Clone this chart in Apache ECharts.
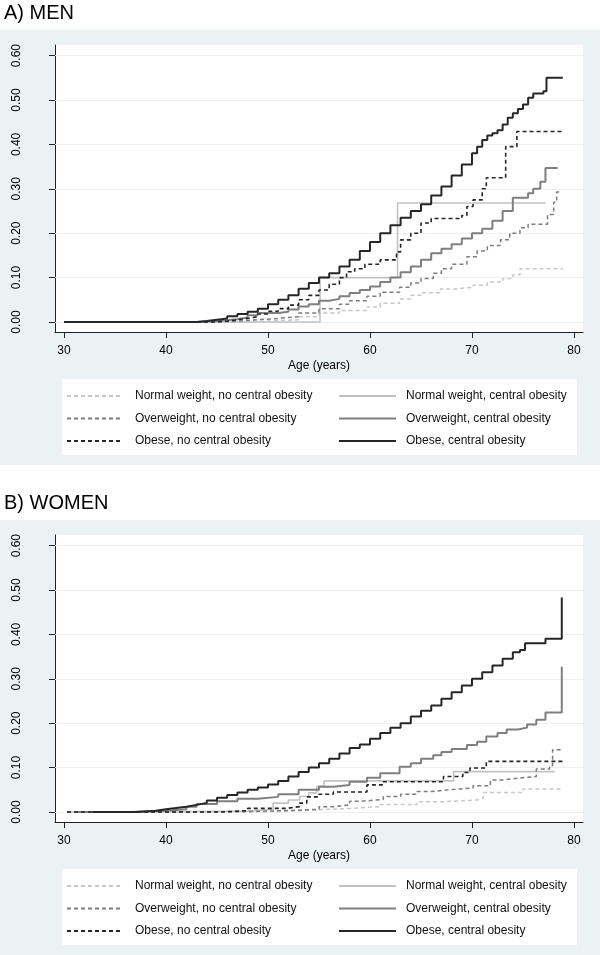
<!DOCTYPE html>
<html>
<head>
<meta charset="utf-8">
<script src="https://cdn.jsdelivr.net/npm/echarts@6/dist/echarts.min.js"></script>
<style>
html,body{margin:0;padding:0;background:#fff;}
#chart{width:600px;height:955px;}
</style>
</head>
<body>
<div id="chart"></div>
<script>
// ---------- DATA ----------
const xTicks = [30, 40, 50, 60, 70, 80];
const yTicks = [0, 0.1, 0.2, 0.3, 0.4, 0.5, 0.6];
const seriesNames = [
  'Normal weight, no central obesity',
  'Normal weight, central obesity',
  'Overweight, no central obesity',
  'Overweight, central obesity',
  'Obese, no central obesity',
  'Obese, central obesity'
];
const panelTitles = ['A) MEN', 'B) WOMEN'];
const xAxisName = 'Age (years)';

// MEN (step functions: age where value changes, value after change, last age shown)
const menNormNoAge = [30, 47, 50, 53, 55, 57, 59.7, 61, 62.9, 64, 65, 66.9, 68, 70.1, 71.5, 73, 74, 74.7];
const menNormNoVal = [0, 0.002, 0.005, 0.012, 0.02, 0.026, 0.034, 0.042, 0.052, 0.06, 0.066, 0.074, 0.078, 0.083, 0.09, 0.098, 0.106, 0.12];
const menNormNoEnd = 78.9;

const menNormCAge = [30, 55.1, 62.7];
const menNormCVal = [0, 0.10, 0.268];
const menNormCEnd = 77.2;

const menOverNoAge = [30, 45, 47, 49, 51, 53, 55, 57, 58, 59.7, 61, 62.9, 64, 65, 66.2, 67, 68, 69.5, 70.5, 71.5, 72.8, 73.7, 74.7, 75.5, 77.4, 78, 78.3];
const menOverNoVal = [0, 0.002, 0.005, 0.008, 0.012, 0.02, 0.03, 0.04, 0.048, 0.058, 0.067, 0.078, 0.088, 0.098, 0.11, 0.12, 0.13, 0.147, 0.16, 0.172, 0.185, 0.2, 0.212, 0.22, 0.242, 0.27, 0.293];
const menOverNoEnd = 78.8;

const menOverCAge = [30, 43, 45, 47, 48, 49, 51, 52, 53, 54, 55, 56, 57, 58, 59, 60, 61, 62, 63, 64, 65, 66, 67, 68, 69, 70, 71, 72, 73, 74, 75.5, 76, 76.7, 77.2];
const menOverCVal = [0, 0.002, 0.006, 0.01, 0.015, 0.02, 0.023, 0.028, 0.035, 0.04, 0.048, 0.052, 0.058, 0.065, 0.072, 0.08, 0.09, 0.1, 0.112, 0.125, 0.14, 0.155, 0.165, 0.175, 0.188, 0.2, 0.21, 0.228, 0.25, 0.28, 0.29, 0.3, 0.316, 0.347];
const menOverCEnd = 78.4;

const menObNoAge = [30, 44.5, 46, 47, 48, 49, 50, 51, 52, 53, 54, 55, 56, 57, 57.7, 58.5, 59.5, 61, 62.6, 63, 64, 65, 66, 69, 69.5, 70.1, 71, 71.4, 73.3, 74.4];
const menObNoVal = [0, 0.002, 0.005, 0.008, 0.012, 0.018, 0.024, 0.03, 0.038, 0.05, 0.06, 0.072, 0.085, 0.1, 0.113, 0.12, 0.13, 0.14, 0.158, 0.185, 0.2, 0.223, 0.233, 0.24, 0.26, 0.275, 0.3, 0.325, 0.395, 0.429];
const menObNoEnd = 78.8;

const menObCAge = [30, 43, 44, 45, 46, 47, 48, 49, 50, 51, 52, 53, 54, 55, 56, 57, 58, 59, 60, 61, 62, 63, 64, 65, 66, 67, 68, 69, 70, 70.5, 71, 71.5, 72, 72.5, 73, 73.5, 74, 74.5, 75, 75.5, 76, 77, 77.3];
const menObCVal = [0, 0.002, 0.005, 0.008, 0.013, 0.018, 0.023, 0.03, 0.04, 0.05, 0.06, 0.075, 0.088, 0.1, 0.11, 0.125, 0.14, 0.16, 0.18, 0.2, 0.218, 0.235, 0.25, 0.265, 0.285, 0.305, 0.33, 0.355, 0.38, 0.395, 0.41, 0.42, 0.425, 0.432, 0.445, 0.46, 0.47, 0.48, 0.49, 0.505, 0.515, 0.52, 0.55];
const menObCEnd = 78.9;

// WOMEN
const womNormNoAge = [30.3, 48, 52, 55, 58, 61, 64.6, 67, 70.5, 71.1, 75];
const womNormNoVal = [0, 0.002, 0.005, 0.008, 0.012, 0.017, 0.023, 0.027, 0.031, 0.044, 0.052];
const womNormNoEnd = 78.9;

const womNormCAge = [30.3, 37, 48, 50.5, 52, 53.1, 54, 54.8, 55.5, 68.2];
const womNormCVal = [0, 0.002, 0.006, 0.02, 0.027, 0.035, 0.043, 0.058, 0.07, 0.091];
const womNormCEnd = 78.1;

const womOverNoAge = [30.3, 45, 50, 53, 55, 56.4, 58, 59, 61.3, 63, 64.6, 66, 67.8, 70.1, 71.8, 73, 74.4, 76.3, 77.6, 77.9];
const womOverNoVal = [0, 0.002, 0.004, 0.006, 0.012, 0.016, 0.024, 0.028, 0.035, 0.04, 0.046, 0.05, 0.054, 0.059, 0.072, 0.076, 0.08, 0.097, 0.104, 0.14];
const womOverNoEnd = 78.9;

const womOverCAge = [31, 36.5, 40, 42, 43, 45, 47, 49, 51, 53, 55, 56.4, 58, 59.7, 61, 62.9, 64, 65, 66.2, 67, 68, 69.5, 70.5, 71.4, 72.5, 73.4, 74.5, 75.4, 76.3, 77.2, 78.8];
const womOverCVal = [0, 0.003, 0.006, 0.012, 0.018, 0.024, 0.03, 0.034, 0.04, 0.05, 0.057, 0.061, 0.068, 0.077, 0.087, 0.102, 0.11, 0.12, 0.128, 0.135, 0.142, 0.151, 0.158, 0.17, 0.178, 0.186, 0.19, 0.197, 0.208, 0.224, 0.327];
const womOverCEnd = 78.8;

const womObNoAge = [30.3, 45.5, 48, 51.8, 53.1, 53.8, 55, 56.4, 59.7, 61.3, 67.2, 69.1, 69.8, 71.4];
const womObNoVal = [0, 0.003, 0.008, 0.012, 0.02, 0.034, 0.04, 0.045, 0.061, 0.068, 0.08, 0.089, 0.099, 0.114];
const womObNoEnd = 78.9;

const womObCAge = [32.8, 37, 39, 40, 41, 42, 43, 44, 45, 46, 47, 48, 49, 50, 51, 52, 53, 54, 55, 56, 57, 58, 59, 60, 61, 62, 63, 64, 65, 66, 67, 68, 69, 70, 71, 72, 73, 74, 74.7, 75.2, 77.2, 78.8];
const womObCVal = [0, 0.003, 0.006, 0.009, 0.012, 0.016, 0.02, 0.026, 0.032, 0.038, 0.044, 0.05, 0.055, 0.062, 0.07, 0.08, 0.09, 0.1, 0.11, 0.12, 0.132, 0.144, 0.152, 0.165, 0.178, 0.19, 0.2, 0.215, 0.228, 0.24, 0.255, 0.27, 0.285, 0.3, 0.315, 0.33, 0.345, 0.36, 0.365, 0.38, 0.39, 0.483];
const womObCEnd = 78.8;

// ---------- BUILD ----------
function stepData(ages, vals, endAge) {
  const pts = [[ages[0], vals[0]]];
  for (let i = 1; i < ages.length; i++) {
    pts.push([ages[i], vals[i - 1]]);
    pts.push([ages[i], vals[i]]);
  }
  if (endAge > ages[ages.length - 1]) pts.push([endAge, vals[vals.length - 1]]);
  return pts;
}

const panels = [
  [[menNormNoAge, menNormNoVal, menNormNoEnd], [menNormCAge, menNormCVal, menNormCEnd],
   [menOverNoAge, menOverNoVal, menOverNoEnd], [menOverCAge, menOverCVal, menOverCEnd],
   [menObNoAge, menObNoVal, menObNoEnd], [menObCAge, menObCVal, menObCEnd]],
  [[womNormNoAge, womNormNoVal, womNormNoEnd], [womNormCAge, womNormCVal, womNormCEnd],
   [womOverNoAge, womOverNoVal, womOverNoEnd], [womOverCAge, womOverCVal, womOverCEnd],
   [womObNoAge, womObNoVal, womObNoEnd], [womObCAge, womObCVal, womObCEnd]]
];

const lineStyles = [
  { color: '#c8c8c8', width: 1.5, type: [4, 3] },
  { color: '#c2c2c2', width: 1.6, type: 'solid' },
  { color: '#7d7d7d', width: 1.5, type: [4, 3] },
  { color: '#7f7f7f', width: 2, type: 'solid' },
  { color: '#262626', width: 1.6, type: [4, 3] },
  { color: '#262626', width: 2, type: 'solid' }
];

const FONT = 'Liberation Sans, Arial, sans-serif';
const BG = '#EAF2F3';
const panelTop = [0, 490];

const grids = [], xAxes = [], yAxes = [], series = [], legends = [], titles = [], graphics = [];

panels.forEach((panel, p) => {
  const off = panelTop[p];
  graphics.push({ type: 'rect', z: -10, shape: { x: 0, y: 30 + off, width: 600, height: 435 }, style: { fill: BG } });
  graphics.push({ type: 'rect', z: -9, shape: { x: 62, y: 379 + off, width: 515, height: 76 }, style: { fill: '#ffffff' } });
  titles.push({ text: panelTitles[p], left: -1, top: -2 + off, textStyle: { fontSize: 20, fontWeight: 'normal', color: '#000', fontFamily: FONT } });
  grids.push({ left: 55, top: 45 + off, width: 528, height: 287, show: true, backgroundColor: '#ffffff', borderWidth: 0, containLabel: false });
  xAxes.push({
    type: 'value', gridIndex: p, min: 29.12, max: 80.88,
    name: xAxisName, nameLocation: 'middle', nameGap: 28,
    nameTextStyle: { fontSize: 12, color: '#000', fontFamily: FONT },
    axisLine: { show: true, onZero: false, lineStyle: { color: '#222', width: 1 } },
    axisTick: { show: true, length: 6, lineStyle: { color: '#222' }, customValues: xTicks },
    axisLabel: { show: true, margin: 13, fontSize: 12, color: '#000', fontFamily: FONT, customValues: xTicks, formatter: v => String(v) },
    splitLine: { show: false }
  });
  yAxes.push({
    type: 'value', gridIndex: p, min: -0.0226, max: 0.624,
    axisLine: { show: true, onZero: false, lineStyle: { color: '#222', width: 1 } },
    axisTick: { show: true, length: 6, lineStyle: { color: '#222' }, customValues: yTicks },
    axisLabel: { show: true, rotate: 90, margin: 32, fontSize: 12, color: '#000', fontFamily: FONT, customValues: yTicks, formatter: v => v.toFixed(2) },
    splitLine: { show: false }
  });
  panel.forEach((d, i) => {
    const s = {
      name: seriesNames[i], type: 'line', xAxisIndex: p, yAxisIndex: p,
      data: stepData(d[0], d[1], d[2]),
      showSymbol: false, symbol: 'none', animation: false, z: 3 + i,
      lineStyle: Object.assign({}, lineStyles[i]),
      itemStyle: { color: lineStyles[i].color }
    };
    if (i === 0) {
      s.markLine = {
        silent: true, symbol: 'none', z: 1, animation: false,
        label: { show: false },
        lineStyle: { color: BG, width: 1.2, type: 'solid' },
        data: yTicks.map(v => ({ yAxis: v }))
      };
    }
    series.push(s);
  });
  const mkLegend = (left, itemWidth, pad, names) => ({
    orient: 'vertical', left: left, top: 390 + off, padding: 0,
    itemWidth: itemWidth, itemHeight: 12, itemGap: 10.5,
    selectedMode: false,
    itemStyle: { opacity: 0, color: 'rgba(0,0,0,0)', borderWidth: 0 },
    textStyle: { fontSize: 12, color: '#111', fontFamily: FONT, rich: { t: { fontSize: 12, color: '#111', fontFamily: FONT, padding: [0, 0, 0, pad] } } },
    formatter: n => '{t|' + n + '}',
    data: names
  });
  legends.push(mkLegend(66, 53, 10, [seriesNames[0], seriesNames[2], seriesNames[4]]));
  legends.push(mkLegend(338, 57, 5, [seriesNames[1], seriesNames[3], seriesNames[5]]));
});

const chart = echarts.init(document.getElementById('chart'), null, { renderer: 'canvas' });
chart.setOption({
  backgroundColor: '#ffffff',
  animation: false,
  title: titles,
  grid: grids,
  xAxis: xAxes,
  yAxis: yAxes,
  legend: legends,
  graphic: graphics,
  series: series
});
</script>
</body>
</html>
